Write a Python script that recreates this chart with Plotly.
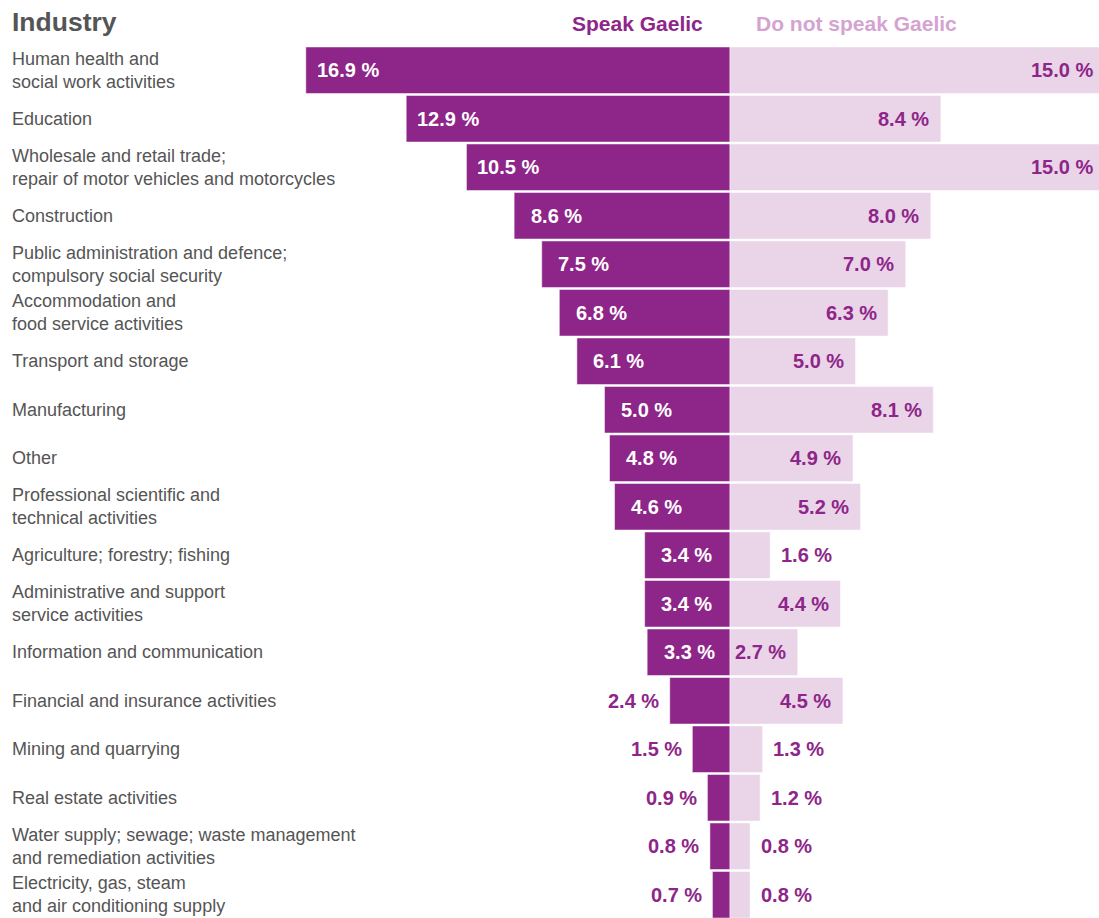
import plotly.graph_objects as go

industries = [
    "Human health and<br>social work activities",
    "Education",
    "Wholesale and retail trade;<br>repair of motor vehicles and motorcycles",
    "Construction",
    "Public administration and defence;<br>compulsory social security",
    "Accommodation and<br>food service activities",
    "Transport and storage",
    "Manufacturing",
    "Other",
    "Professional scientific and<br>technical activities",
    "Agriculture; forestry; fishing",
    "Administrative and support<br>service activities",
    "Information and communication",
    "Financial and insurance activities",
    "Mining and quarrying",
    "Real estate activities",
    "Water supply; sewage; waste management<br>and remediation activities",
    "Electricity, gas, steam<br>and air conditioning supply",
]
speak = [16.9, 12.9, 10.5, 8.6, 7.5, 6.8, 6.1, 5.0, 4.8, 4.6, 3.4, 3.4, 3.3, 2.4, 1.5, 0.9, 0.8, 0.7]
not_speak = [15.0, 8.4, 15.0, 8.0, 7.0, 6.3, 5.0, 8.1, 4.9, 5.2, 1.6, 4.4, 2.7, 4.5, 1.3, 1.2, 0.8, 0.8]

DARK = "#8E2589"
LIGHT = "#E9D4E8"
HEAD_LIGHT = "#D5A3D2"
GREY = "#555555"
FONT = "Liberation Sans, Arial, sans-serif"

SCALE = 25.1
CENTER_PX = 730
LEFT_MARGIN = 12
WIDTH, HEIGHT = 1099, 918
TOP = 46
xmin = -(CENTER_PX - LEFT_MARGIN) / SCALE
xmax = (WIDTH - CENTER_PX) / SCALE
INSIDE_MIN = 2.5

rows = list(range(len(industries)))

fig = go.Figure()
fig.add_trace(go.Bar(
    y=rows, x=[-v for v in speak], orientation="h",
    marker=dict(color=DARK, line=dict(color="#ffffff", width=0.5)),
    hoverinfo="skip", showlegend=False,
))
fig.add_trace(go.Bar(
    y=rows, x=not_speak, orientation="h",
    marker=dict(color=LIGHT, line=dict(color="#ffffff", width=0.5)),
    hoverinfo="skip", showlegend=False,
))

VAL_SIZE = 20
annotations = []
for i, (name, s, n) in enumerate(zip(industries, speak, not_speak)):
    annotations.append(dict(
        xref="paper", x=0, xshift=-2, xanchor="left", yref="y", y=i, yanchor="middle",
        text=name, showarrow=False, align="left",
        font=dict(family=FONT, size=18, color=GREY),
    ))
    if s >= INSIDE_MIN:
        annotations.append(dict(
            xref="x", x=-s, xshift=42, xanchor="center", yref="y", y=i,
            text=f"{s:.1f} %", showarrow=False,
            font=dict(family=FONT, size=VAL_SIZE, color="#ffffff", weight="bold"),
        ))
    else:
        annotations.append(dict(
            xref="x", x=-s, xshift=-36, xanchor="center", yref="y", y=i,
            text=f"{s:.1f} %", showarrow=False,
            font=dict(family=FONT, size=VAL_SIZE, color=DARK, weight="bold"),
        ))
    if n >= INSIDE_MIN:
        annotations.append(dict(
            xref="x", x=min(n, xmax), xshift=-37, xanchor="center", yref="y", y=i,
            text=f"{n:.1f} %", showarrow=False,
            font=dict(family=FONT, size=VAL_SIZE, color=DARK, weight="bold"),
        ))
    else:
        annotations.append(dict(
            xref="x", x=n, xshift=36, xanchor="center", yref="y", y=i,
            text=f"{n:.1f} %", showarrow=False,
            font=dict(family=FONT, size=VAL_SIZE, color=DARK, weight="bold"),
        ))

annotations.append(dict(
    xref="paper", x=0, xshift=-2, xanchor="left", yref="paper", y=1, yshift=24, yanchor="middle",
    text="Industry", showarrow=False,
    font=dict(family=FONT, size=26.5, color=GREY, weight="bold"),
))
annotations.append(dict(
    xref="x", x=0, xshift=-25, xanchor="right", yref="paper", y=1, yshift=23, yanchor="middle",
    text="Speak Gaelic", showarrow=False,
    font=dict(family=FONT, size=21, color=DARK, weight="bold"),
))
annotations.append(dict(
    xref="x", x=0, xshift=24, xanchor="left", yref="paper", y=1, yshift=23, yanchor="middle",
    text="Do not speak Gaelic", showarrow=False,
    font=dict(family=FONT, size=21, color=HEAD_LIGHT, weight="bold"),
))

plot_h = HEIGHT - TOP
units = plot_h / 48.5
fig.update_layout(
    width=WIDTH, height=HEIGHT,
    margin=dict(l=LEFT_MARGIN, r=0, t=TOP, b=0, pad=0),
    barmode="overlay", bargap=0.04,
    plot_bgcolor="#ffffff", paper_bgcolor="#ffffff",
    xaxis=dict(range=[xmin, xmax], visible=False, fixedrange=True),
    yaxis=dict(range=[-0.5 + units, -0.5], visible=False, fixedrange=True),
    annotations=annotations,
    font=dict(family=FONT),
)
fig.write_html(
    "out.html",
    config={"displayModeBar": False},
    post_script="document.body.style.margin='0';document.body.style.overflow='hidden';",
)
